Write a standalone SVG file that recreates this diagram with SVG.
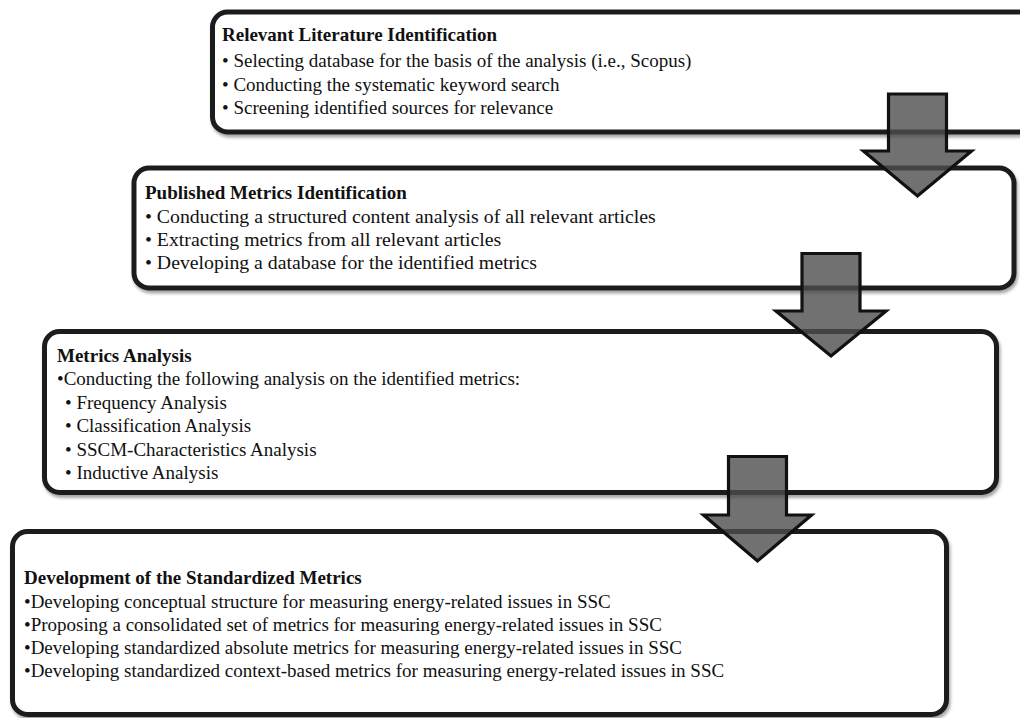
<svg xmlns="http://www.w3.org/2000/svg" width="1020" height="718" viewBox="0 0 1020 718">
<style>
.box{fill:#fff;stroke:#1e1e1e;stroke-width:5;filter:url(#sh)}
.t{font-family:"Liberation Serif","Times New Roman",serif;font-size:19px;fill:#111}
.b{font-weight:bold}
.w{font-size:19.8px}
.arr{fill:#4d4d4d;fill-opacity:0.8;stroke:#111;stroke-width:3.2;stroke-linejoin:miter}
</style>
<defs>
<filter id="sh" x="-5%" y="-10%" width="110%" height="125%">
<feDropShadow dx="1.5" dy="3" stdDeviation="1.8" flood-color="#000" flood-opacity="0.35"/>
</filter>
</defs>
<rect width="1020" height="718" fill="#fff"/>
<g id="node1">
<rect class="box" x="212.5" y="12" width="840" height="120" rx="15"/>
<text class="t b" x="222" y="41">Relevant Literature Identification</text>
<text class="t" x="222" y="67">• Selecting database for the basis of the analysis (i.e., Scopus)</text>
<text class="t" x="222" y="90.5">• Conducting the systematic keyword search</text>
<text class="t" x="222" y="113.5">• Screening identified sources for relevance</text>
</g>
<g id="node2">
<rect class="box" x="134" y="168" width="880" height="120" rx="15"/>
<text class="t b" x="145" y="199">Published Metrics Identification</text>
<text class="t w" x="145" y="222.5">• Conducting a structured content analysis of all relevant articles</text>
<text class="t w" x="145" y="245.5">• Extracting metrics from all relevant articles</text>
<text class="t w" x="145" y="268.5">• Developing a database for the identified metrics</text>
</g>
<g id="node3">
<rect class="box" x="44.5" y="331.5" width="952" height="161" rx="15"/>
<text class="t b" x="57" y="361.5">Metrics Analysis</text>
<text class="t" x="57" y="385">•Conducting the following analysis on the identified metrics:</text>
<text class="t" x="65" y="408.5">• Frequency Analysis</text>
<text class="t" x="65" y="432">• Classification Analysis</text>
<text class="t" x="65" y="455.5">• SSCM-Characteristics Analysis</text>
<text class="t" x="65" y="479">• Inductive Analysis</text>
</g>
<g id="node4">
<rect class="box" x="12.5" y="531.5" width="934" height="183" rx="15"/>
<text class="t b" x="24" y="584">Development of the Standardized Metrics</text>
<text class="t" x="24" y="607.5">•Developing conceptual structure for measuring energy-related issues in SSC</text>
<text class="t" x="24" y="630.5">•Proposing a consolidated set of metrics for measuring energy-related issues in SSC</text>
<text class="t" x="24" y="653.5">•Developing standardized absolute metrics for measuring energy-related issues in SSC</text>
<text class="t" x="24" y="676.5">•Developing standardized context-based metrics for measuring energy-related issues in SSC</text>
</g>
<g id="connectors">
<path class="arr" d="M888.5 94 H946.5 V151 H971.5 L917.5 196 L863.5 151 H888.5 Z"/>
<path class="arr" d="M802 253.5 H860 V311 H886 L831 356 L776 311 H802 Z"/>
<path class="arr" d="M728.5 456.5 H786.5 V515 H811.5 L757.5 561 L703.5 515 H728.5 Z"/>
</g>
</svg>
